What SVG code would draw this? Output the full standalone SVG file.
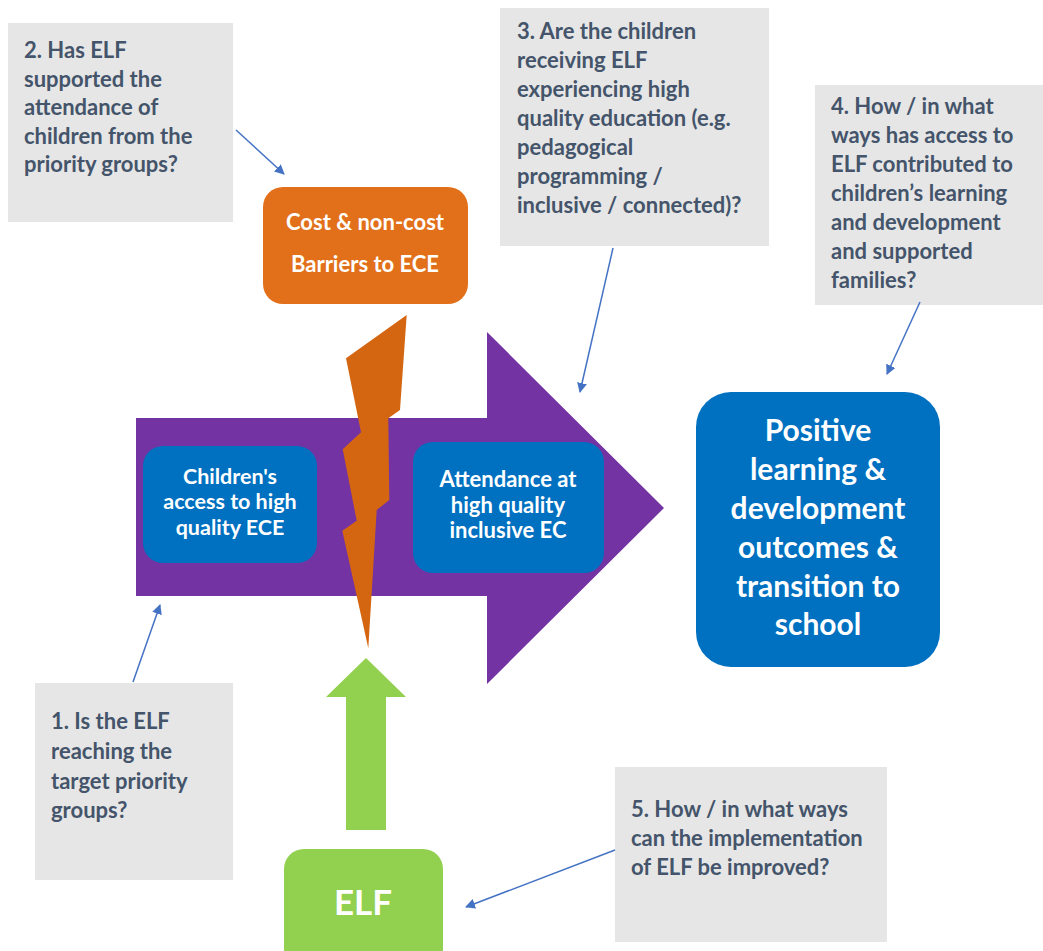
<svg xmlns="http://www.w3.org/2000/svg" width="1043" height="951" viewBox="0 0 1043 951">
<style>
.q{fill:#E6E6E6}
.qt{font-family:Lato,"Open Sans","Liberation Sans",sans-serif;font-weight:bold;font-size:22px;fill:#44546A}
.wt{font-family:Lato,"Open Sans","Liberation Sans",sans-serif;font-weight:bold;fill:#FFFFFF;text-anchor:middle}
.blue{fill:#0070C0}
.c{stroke:#4472C4;stroke-width:1.5;fill:none;marker-end:url(#ah)}
</style>
<defs>
<marker id="ah" viewBox="0 0 10 10" refX="9" refY="5" markerWidth="10" markerHeight="10" markerUnits="userSpaceOnUse" orient="auto">
<path d="M0,0 L10,5 L0,10 z" fill="#4472C4"/>
</marker>
</defs>
<rect width="1043" height="951" fill="#FFFFFF"/>

<g id="main-arrow">
<polygon points="136,418 487,418 487,332 664,508 487,684 487,596 136,596" fill="#7333A3"/>
</g>

<g id="access">
<rect class="blue" x="143" y="446" width="174" height="117" rx="20"/>
<text class="wt" font-size="21.5"><tspan x="230" y="484">Children's</tspan><tspan x="230" y="509">access to high</tspan><tspan x="230" y="535">quality ECE</tspan></text>
</g>

<g id="attendance">
<rect class="blue" x="413" y="442" width="191" height="131" rx="20"/>
<text class="wt" font-size="22"><tspan x="508" y="487">Attendance at</tspan><tspan x="508" y="513">high quality</tspan><tspan x="508" y="538">inclusive EC</tspan></text>
</g>

<g id="barriers">
<rect x="263" y="187" width="205" height="117" rx="20" fill="#E2701A"/>
<text class="wt" font-size="22"><tspan x="365" y="230">Cost &amp; non-cost</tspan><tspan x="365" y="272">Barriers to ECE</tspan></text>
</g>

<g id="bolt">
<polygon points="406.7,315 346,358.3 361,432.3 342.7,449.3 356.7,520.7 342.3,530.7 368.3,648.3 376.7,510 389.3,500 388.3,418.3 400,410" fill="#D56611"/>
</g>

<g id="elf-arrow">
<polygon points="366,658 406,697 386,697 386,830 346,830 346,697 326,697" fill="#92D050"/>
</g>

<g id="elf">
<rect x="284" y="849" width="159" height="120" rx="20" fill="#92D050"/>
<text class="wt" font-size="35" x="363" y="915">ELF</text>
</g>

<g id="outcomes">
<rect class="blue" x="696" y="392" width="244" height="275" rx="35"/>
<text class="wt" font-size="30"><tspan x="818" y="441">Positive</tspan><tspan x="818" y="480">learning &amp;</tspan><tspan x="818" y="519">development</tspan><tspan x="818" y="558">outcomes &amp;</tspan><tspan x="818" y="597">transition to</tspan><tspan x="818" y="635">school</tspan></text>
</g>

<g id="q2">
<rect class="q" x="8" y="23" width="225" height="199"/>
<text class="qt"><tspan x="24" y="58">2. Has ELF</tspan><tspan x="24" y="87">supported the</tspan><tspan x="24" y="115">attendance of</tspan><tspan x="24" y="144">children from the</tspan><tspan x="24" y="172">priority groups?</tspan></text>
</g>

<g id="q3">
<rect class="q" x="500" y="8" width="269" height="238"/>
<text class="qt"><tspan x="517" y="39">3. Are the children</tspan><tspan x="517" y="68">receiving ELF</tspan><tspan x="517" y="97">experiencing high</tspan><tspan x="517" y="126">quality education (e.g.</tspan><tspan x="517" y="155">pedagogical</tspan><tspan x="517" y="184">programming /</tspan><tspan x="517" y="213">inclusive / connected)?</tspan></text>
</g>

<g id="q4">
<rect class="q" x="815" y="85" width="228" height="220"/>
<text class="qt"><tspan x="831" y="114">4. How / in what</tspan><tspan x="831" y="143">ways has access to</tspan><tspan x="831" y="172">ELF contributed to</tspan><tspan x="831" y="201">children’s learning</tspan><tspan x="831" y="230">and development</tspan><tspan x="831" y="259">and supported</tspan><tspan x="831" y="288">families?</tspan></text>
</g>

<g id="q1">
<rect class="q" x="35" y="683" width="198" height="197"/>
<text class="qt"><tspan x="51" y="729">1. Is the ELF</tspan><tspan x="51" y="759">reaching the</tspan><tspan x="51" y="789">target priority</tspan><tspan x="51" y="818">groups?</tspan></text>
</g>

<g id="q5">
<rect class="q" x="615" y="767" width="272" height="175"/>
<text class="qt"><tspan x="631" y="817">5. How / in what ways</tspan><tspan x="631" y="846">can the implementation</tspan><tspan x="631" y="875">of ELF be improved?</tspan></text>
</g>

<g id="connectors">
<line class="c" x1="236" y1="130" x2="284" y2="174"/>
<line class="c" x1="613" y1="248" x2="580" y2="392"/>
<line class="c" x1="920" y1="302" x2="887" y2="374"/>
<line class="c" x1="133" y1="682" x2="160" y2="605"/>
<line class="c" x1="615" y1="850" x2="466" y2="907"/>
</g>
</svg>
